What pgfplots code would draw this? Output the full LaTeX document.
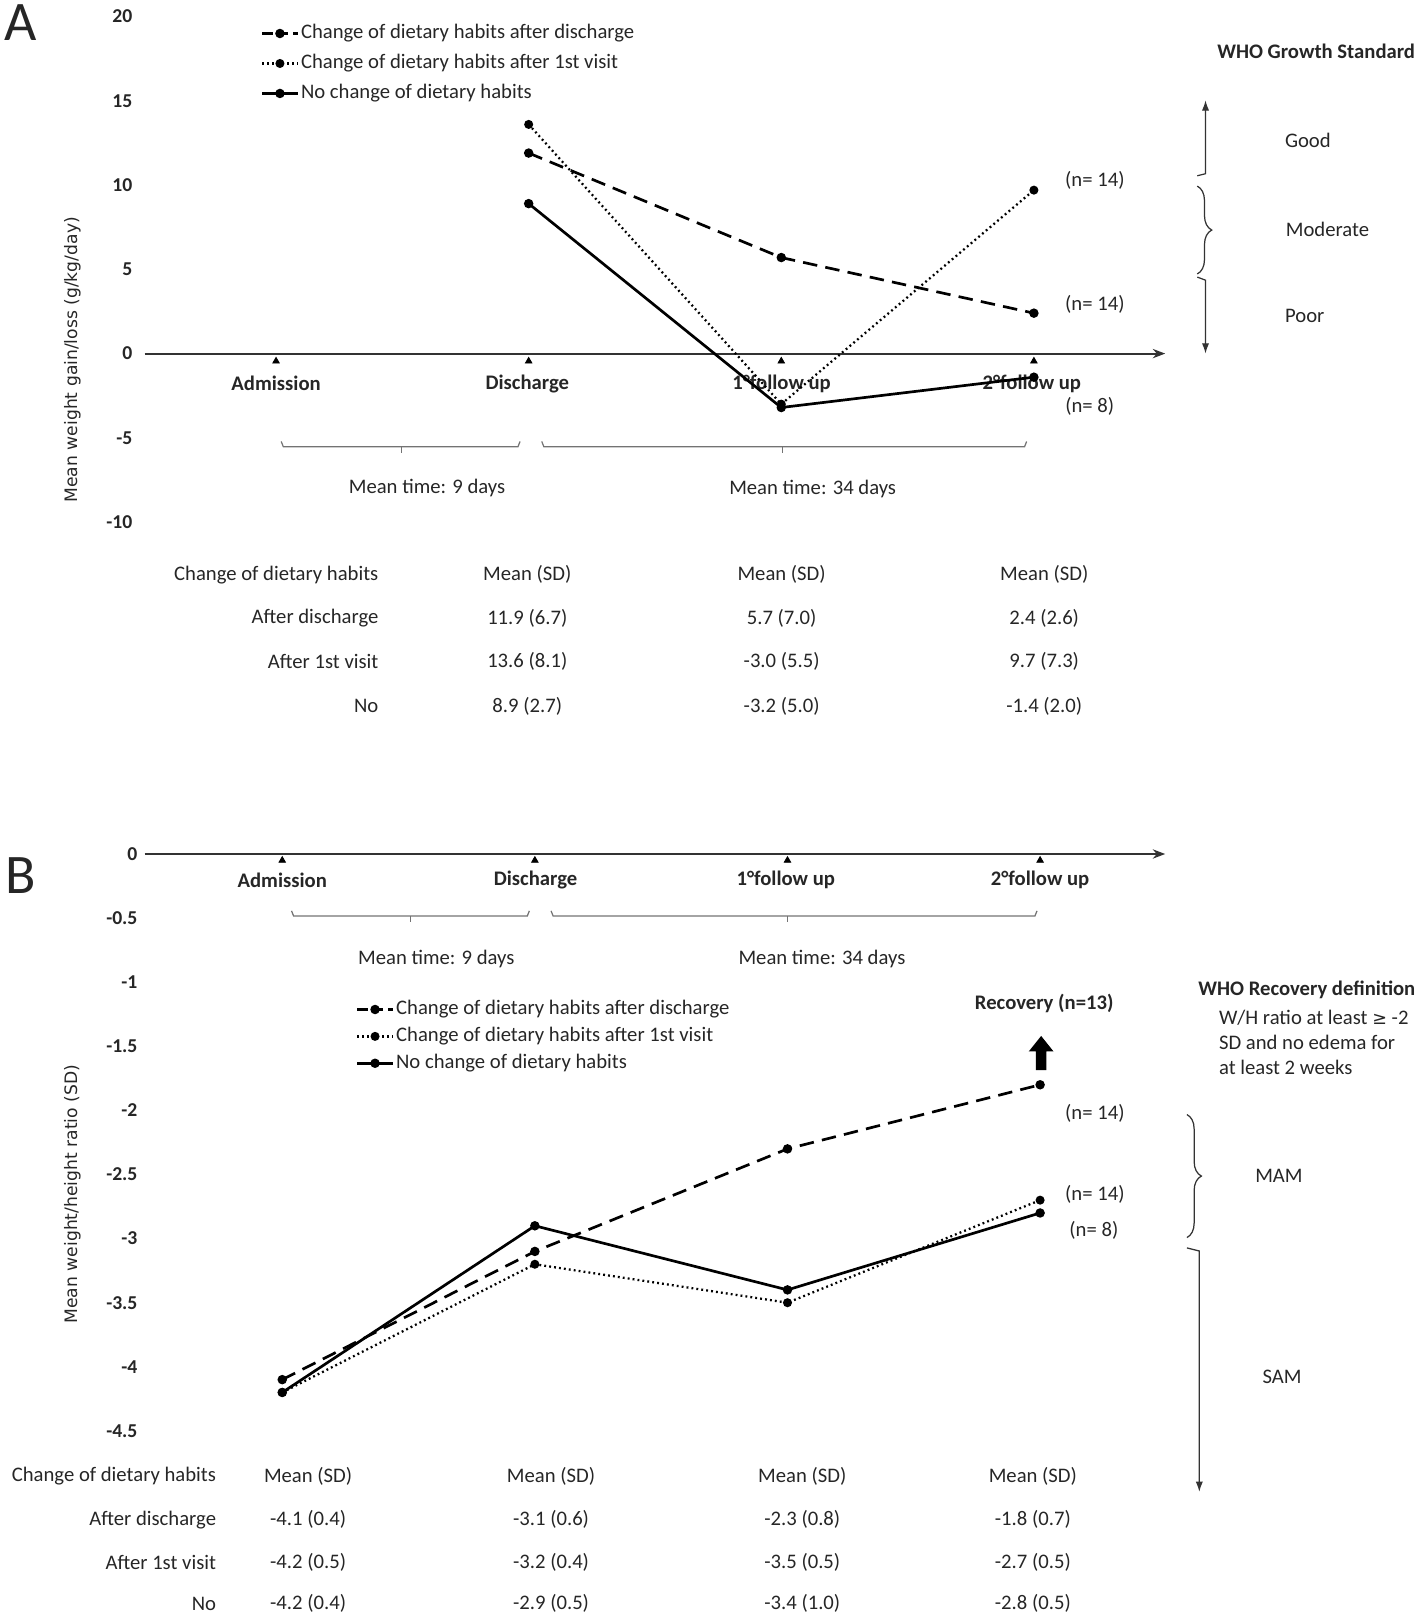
\documentclass[border=0pt]{standalone}
\usepackage{fontspec}
\setmainfont{Carlito}
\newfontfamily\dejavu{DejaVu Sans}
\usepackage{pgfplots}
\pgfplotsset{compat=1.18}
\usetikzlibrary{arrows.meta,decorations.pathreplacing}

\newcommand\tf{\fontsize{10}{12}\selectfont}
\newcommand\bt{\bfseries\fontsize{10}{12}\selectfont}

\pgfplotsset{
  grp/.style={
    scale only axis, width=492.5pt,
    axis line style={draw=none}, major tick length=0pt,
    xtick=\empty, clip=false,
    yticklabel style={font=\bfseries\fontsize{9.5}{11}\selectfont, text=black!85},
    legend cell align=left,
    legend style={draw=none, fill=none, inner sep=0pt,
      font=\tf, text=black!85,
      nodes={inner sep=1pt, text height=7pt, text depth=2pt}},
  },
  dis/.style={black, line width=1.3pt, dash pattern=on 7pt off 4pt,
    mark=*, mark size=1.6pt, mark options={solid},
    legend image code/.code={\draw[mark repeat=2, mark phase=2,
      dash pattern=on 5pt off 2.5pt]
      plot coordinates {(0cm,0cm) (0.3cm,0cm) (0.6cm,0cm)};}},
  vis/.style={black, line width=1.1pt, dash pattern=on 0.9pt off 1.5pt,
    mark=*, mark size=1.6pt, mark options={solid}},
  noc/.style={black, line width=1.3pt, mark=*, mark size=1.6pt},
  tri/.style={only marks, mark=triangle*, mark size=1.8pt, black, forget plot},
}

\begin{document}
\begin{tikzpicture}
\begin{scope}[x=0.5pt,y=-0.5pt]
\useasboundingbox (0,0) rectangle (1372,1564);
\tikzset{every node/.style={text=black!85, font=\tf}}

% panel letters
\node[font=\fontsize{27}{30}\selectfont] at (20,22) {A};
\node[font=\fontsize{27}{30}\selectfont] at (20,847) {B};

% y labels
\node[rotate=90, font=\dejavu\fontsize{8.3}{10}\selectfont] at (70,348) {Mean weight gain/loss (g/kg/day)};
\node[rotate=90, font=\dejavu\fontsize{8.3}{10}\selectfont] at (70,1155) {Mean weight/height ratio (SD)};

% time axes
\draw[line width=0.9pt, black!80, -{Stealth[length=6pt,width=4.5pt]}] (140,342) -- (1127,342);
\draw[line width=0.9pt, black!80, -{Stealth[length=6pt,width=4.5pt]}] (140,826) -- (1127,826);

% category labels A
\node[font=\bt] at (267,371) {Admission};
\node[font=\bt] at (510,371) {Discharge};
\node[font=\bt] at (756,371) {1°follow up};
\node[font=\bt] at (998,371) {2°follow up};
% category labels B
\node[font=\bt] at (273,851) {Admission};
\node[font=\bt] at (518,851) {Discharge};
\node[font=\bt] at (760,851) {1°follow up};
\node[font=\bt] at (1006,851) {2°follow up};

% mean time brackets A
\draw[black!55, line width=0.6pt] (272,427) -- (274,432) -- (501,432) -- (503,427);
\draw[black!55, line width=0.6pt] (388,432) -- (388,438);
\draw[black!55, line width=0.6pt] (524,427) -- (526,432) -- (991,432) -- (993,427);
\draw[black!55, line width=0.6pt] (757,432) -- (757,438);
\node at (413,472) {Mean time: 9 days};
\node at (786,473) {Mean time: 34 days};
% mean time brackets B
\draw[black!55, line width=0.6pt] (282,881) -- (284,886) -- (510,886) -- (512,881);
\draw[black!55, line width=0.6pt] (397,886) -- (397,892);
\draw[black!55, line width=0.6pt] (533,881) -- (535,886) -- (1001,886) -- (1003,881);
\draw[black!55, line width=0.6pt] (762,886) -- (762,892);
\node at (422,928) {Mean time: 9 days};
\node at (795,928) {Mean time: 34 days};

% right side A
\node[font=\bt] at (1273,50) {WHO Growth Standard};
\draw[line width=0.6pt, black!80, -{Latex[length=5pt,width=3.5pt]}] (1158,170) -- (1166,168) -- (1166,97);
\draw[line width=0.6pt, black!80, decorate, decoration={brace, amplitude=7pt}] (1158,180) -- (1158,265);
\draw[line width=0.6pt, black!80, -{Latex[length=5pt,width=3.5pt]}] (1158,268) -- (1166,271) -- (1166,342);
\node at (1265,136) {Good};
\node at (1284,222) {Moderate};
\node at (1262,306) {Poor};
\node at (1059,174) {(n= 14)};
\node at (1059,294) {(n= 14)};
\node at (1054,393) {(n= 8)};

% right side B
\node[font=\bt] at (1264,957) {WHO Recovery definition};
\node[anchor=west] at (1172,984) {W/H ratio at least {\dejavu\fontsize{8.5}{10}\selectfont ≥} -2};
\node[anchor=west] at (1172,1008) {SD and no edema for};
\node[anchor=west] at (1172,1032) {at least 2 weeks};
\node[font=\bt] at (1010,971) {Recovery (n=13)};
\fill[black] (1002,1035) -- (1012,1035) -- (1012,1017) -- (1019,1017) -- (1007,1002) -- (995,1017) -- (1002,1017) -- cycle;
\node at (1059,1077) {(n= 14)};
\node at (1059,1155) {(n= 14)};
\node at (1058,1190) {(n= 8)};
\draw[line width=0.6pt, black!80, decorate, decoration={brace, amplitude=7pt}] (1148,1078) -- (1148,1197);
\draw[line width=0.6pt, black!80, -{Latex[length=5pt,width=3.5pt]}] (1148,1207) -- (1160,1210) -- (1160,1443);
\node at (1237,1137) {MAM};
\node at (1240,1332) {SAM};

% table A
\node[anchor=east] at (373,556) {Change of dietary habits};
\node[anchor=east] at (373,598) {After discharge};
\node[anchor=east] at (373,640) {After 1st visit};
\node[anchor=east] at (373,683) {No};
\node at (510,556) {Mean (SD)};
\node at (756,556) {Mean (SD)};
\node at (1010,556) {Mean (SD)};
\node at (510,598) {11.9 (6.7)};
\node at (756,598) {5.7 (7.0)};
\node at (1010,598) {2.4 (2.6)};
\node at (510,640) {13.6 (8.1)};
\node at (756,640) {-3.0 (5.5)};
\node at (1010,640) {9.7 (7.3)};
\node at (510,683) {8.9 (2.7)};
\node at (756,683) {-3.2 (5.0)};
\node at (1010,683) {-1.4 (2.0)};

% table B
\node[anchor=east] at (216,1428) {Change of dietary habits};
\node[anchor=east] at (216,1470) {After discharge};
\node[anchor=east] at (216,1511) {After 1st visit};
\node[anchor=east] at (216,1551) {No};
\node at (298,1428) {Mean (SD)};
\node at (533,1428) {Mean (SD)};
\node at (776,1428) {Mean (SD)};
\node at (999,1428) {Mean (SD)};
\node at (298,1470) {-4.1 (0.4)};
\node at (533,1470) {-3.1 (0.6)};
\node at (776,1470) {-2.3 (0.8)};
\node at (999,1470) {-1.8 (0.7)};
\node at (298,1511) {-4.2 (0.5)};
\node at (533,1511) {-3.2 (0.4)};
\node at (776,1511) {-3.5 (0.5)};
\node at (999,1511) {-2.7 (0.5)};
\node at (298,1551) {-4.2 (0.4)};
\node at (533,1551) {-2.9 (0.5)};
\node at (776,1551) {-3.4 (1.0)};
\node at (999,1551) {-2.8 (0.5)};
\end{scope}

% panel A
\begin{axis}[grp, at={(70pt,-252.5pt)}, anchor=south west, height=244.5pt,
  xmin=-0.5198, xmax=3.5116, ymin=-10, ymax=20,
  ytick={-10,-5,0,5,10,15,20}, yticklabels={-10,-5,0,5,10,15,20},
  yticklabel style={xshift=-2.5pt},
  legend style={at={(0.1137,0.9898)}, anchor=north west, row sep=3.5pt}]
\addplot[tri] coordinates {(0,-0.45) (1,-0.45) (2,-0.45) (3,-0.45)};
\addplot[dis] coordinates {(1,11.9) (2,5.7) (3,2.4)};
\addplot[vis] coordinates {(1,13.6) (2,-3.0) (3,9.7)};
\addplot[noc] coordinates {(1,8.9) (2,-3.2) (3,-1.4)};
\legend{Change of dietary habits after discharge,
  Change of dietary habits after 1st visit,
  No change of dietary habits}
\end{axis}

% panel B
\begin{axis}[grp, at={(70pt,-692pt)}, anchor=south west, height=279pt,
  xmin=-0.5443, xmax=3.487, ymin=-4.5, ymax=0,
  ytick={-4.5,-4,-3.5,-3,-2.5,-2,-1.5,-1,-0.5,0},
  yticklabels={-4.5,-4,-3.5,-3,-2.5,-2,-1.5,-1,-0.5,0},
  legend style={at={(0.2071,0.7509)}, anchor=north west, row sep=2pt}]
\addplot[tri] coordinates {(0,-0.05) (1,-0.05) (2,-0.05) (3,-0.05)};
\addplot[dis] coordinates {(0,-4.1) (1,-3.1) (2,-2.3) (3,-1.8)};
\addplot[vis] coordinates {(0,-4.2) (1,-3.2) (2,-3.5) (3,-2.7)};
\addplot[noc] coordinates {(0,-4.2) (1,-2.9) (2,-3.4) (3,-2.8)};
\legend{Change of dietary habits after discharge,
  Change of dietary habits after 1st visit,
  No change of dietary habits}
\end{axis}
\end{tikzpicture}
\end{document}
